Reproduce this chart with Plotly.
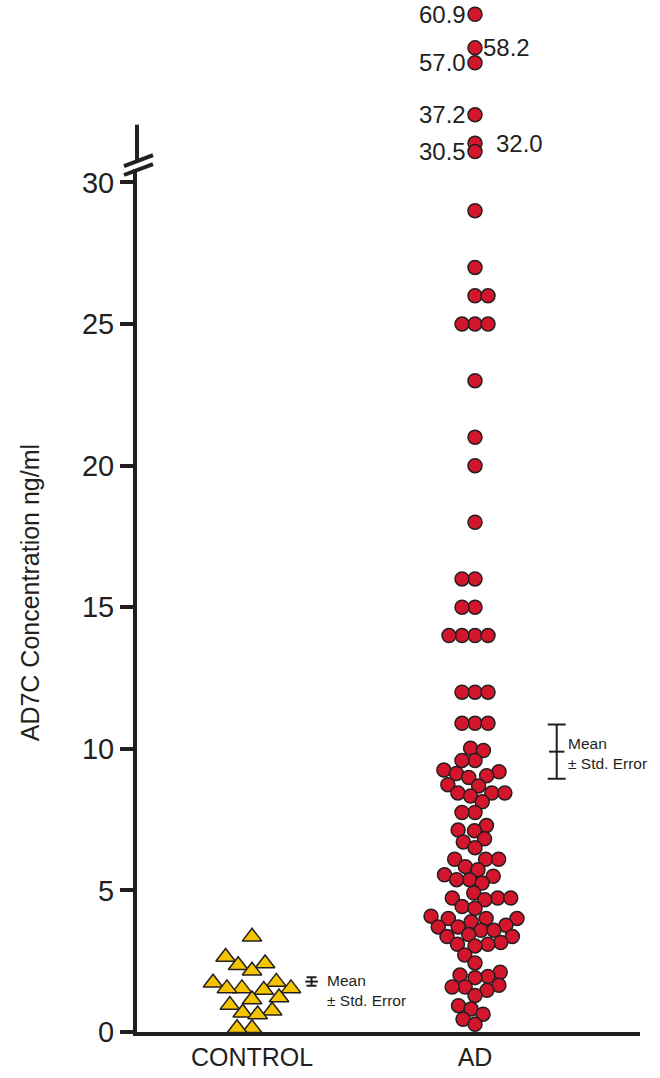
import numpy as np
import plotly.graph_objects as go

# ---------------- data ----------------
groups = ["CONTROL", "AD"]

control_values = [3.36, 2.65, 2.42, 2.36, 2.16, 1.77, 1.74, 1.54, 1.54, 1.54,
                  1.48, 1.22, 1.15, 0.95, 0.75, 0.68, 0.62, 0.13, 0.13]

ad_values = [60.9, 58.2, 57.0, 37.2, 32.0, 30.5,
             29, 27, 26, 26, 25, 25, 25, 23, 21, 20, 18, 16, 16, 15, 15,
             14, 14, 14, 14, 12, 12, 12, 10.9, 10.9, 10.9,
             10.02, 9.94, 9.59, 9.59, 9.25, 9.19, 9.13, 9.05, 8.99, 8.73, 8.69,
             8.44, 8.44, 8.44, 8.33, 8.13, 7.75, 7.75, 7.29, 7.13, 7.11, 6.82,
             6.71, 6.51, 6.1, 6.1, 6.1, 5.84, 5.73, 5.55, 5.50, 5.38, 5.38, 5.26,
             4.91, 4.73, 4.73, 4.73, 4.67, 4.43, 4.37, 4.09, 4.01, 4.01, 4.01,
             3.89, 3.77, 3.71, 3.71, 3.59, 3.59, 3.44, 3.37, 3.37, 3.16, 3.10,
             3.10, 3.04, 2.72, 2.44, 2.11, 2.01, 1.96, 1.92, 1.65, 1.59, 1.59,
             1.47, 1.29, 0.93, 0.81, 0.63, 0.45, 0.27]

labeled_values = [60.9, 58.2, 57.0, 37.2, 32.0, 30.5]
labeled_text = ["60.9", "58.2", "57.0", "37.2", "32.0", "30.5"]
labeled_side = ["left", "right", "left", "left", "right", "left"]

group_mean = [1.78, 9.9]
group_se = [0.15, 0.96]

y_tick_values = [0, 5, 10, 15, 20, 25, 30]
y_title = "AD7C Concentration ng/ml"

# ---------------- layout geometry ----------------
W, H = 660, 1078
ML, MR, MT, MB = 137, 20, 0, 46
PW, PH = W - ML - MR, H - MT - MB
X_RANGE = [0.484, 2.740]
PX_PER_X = PW / (X_RANGE[1] - X_RANGE[0])
PX_PER_Y = 28.4
Y1_TOP = 30.46
Y1_DOMAIN = [0, Y1_TOP * PX_PER_Y / PH]


def dom(p_bottom, p_top):
    return [(PH - p_bottom) / PH, (PH - p_top) / PH]


# upper segments above the axis break (pixel rows from top)
Y2_DOMAIN = dom(158, 100)
Y2_SCALE = 5.5
Y2_RANGE = [30.5 - (158 - 149) / Y2_SCALE, 30.5 + (149 - 100) / Y2_SCALE]
Y3_DOMAIN = dom(95, 0)
Y3_SCALE = 12.5
Y3_RANGE = [57.0 - (95 - 60) / Y3_SCALE, 57.0 + 60 / Y3_SCALE]

INK = "#231f20"
RED = "#d3162c"
YEL = "#f4c400"
FONT = "Liberation Sans, Arial, sans-serif"


def swarm(values, diam):
    """Deterministic beeswarm offsets (in x data units)."""
    vals = np.asarray(values, dtype=float)
    order = np.argsort(vals, kind="stable")
    placed = []
    offs = np.zeros(len(vals))
    for k, i in enumerate(order):
        y = vals[i] * PX_PER_Y
        forb = []
        for yj, xj in placed:
            dy = abs(y - yj)
            if dy < diam:
                w = np.sqrt(diam ** 2 - dy ** 2)
                forb.append((xj - w, xj + w))
        cands = [0.0] + [a for a, b in forb] + [b for a, b in forb]
        sgn = 1 if k % 2 == 0 else -1
        cands.sort(key=lambda c: (round(abs(c), 6), -sgn * c))
        x = 0.0
        for c in cands:
            if all(not (a + 1e-6 < c < b - 1e-6) for a, b in forb):
                x = c
                break
        placed.append((y, x))
        offs[i] = x / PX_PER_X
    return offs


ctrl = np.array(control_values)
ad = np.array(ad_values)
ad_low = ad[ad <= Y1_TOP]
ad_mid = ad[(ad > Y1_TOP) & (ad < 45)]
ad_top = ad[ad >= 45]

ctrl_x = 1 + swarm(ctrl, 15.0)
ad_low_x = 2 + swarm(ad_low, 13.0)

fig = go.Figure()

circle = dict(symbol="circle", size=14, color=RED, line=dict(color=INK, width=1.5))
tri = dict(symbol="triangle-up", size=17, color=YEL, line=dict(color=INK, width=1.5))

fig.add_trace(go.Scatter(x=ctrl_x, y=ctrl, mode="markers", marker=tri,
                         cliponaxis=False, showlegend=False))
fig.add_trace(go.Scatter(x=ad_low_x, y=ad_low, mode="markers", marker=circle,
                         cliponaxis=False, showlegend=False))
fig.add_trace(go.Scatter(x=[2] * len(ad_mid), y=ad_mid, yaxis="y2", mode="markers",
                         marker=circle, cliponaxis=False, showlegend=False))
fig.add_trace(go.Scatter(x=[2] * len(ad_top), y=ad_top, yaxis="y3", mode="markers",
                         marker=circle, cliponaxis=False, showlegend=False))

# mean +/- standard error markers
se_pos = [1 + 59.5 / PX_PER_X, 2 + 81.7 / PX_PER_X]
cap_w = [5, 9]
tick_sz = [9, 11]
txt_dx = [13, 9]
txt_dy = [-9, -2]
for g in range(2):
    fig.add_trace(go.Scatter(
        x=[se_pos[g]], y=[group_mean[g]], mode="markers", cliponaxis=False,
        marker=dict(symbol="line-ew", size=tick_sz[g], line=dict(color=INK, width=2)),
        error_y=dict(type="data", array=[group_se[g]], color=INK,
                     thickness=2, width=cap_w[g]),
        showlegend=False))
    fig.add_annotation(x=se_pos[g], y=group_mean[g], xref="x", yref="y",
                       text="Mean<br>± Std. Error", showarrow=False, align="left",
                       xanchor="left", yanchor="middle", xshift=txt_dx[g],
                       yshift=txt_dy[g],
                       font=dict(family=FONT, size=15.5, color=INK))

# labels of the off-scale values
for v, t, s in zip(labeled_values, labeled_text, labeled_side):
    yref = "y2" if v < 45 else "y3"
    if s == "left":
        fig.add_annotation(x=2, y=v, xref="x", yref=yref, text=t, showarrow=False,
                           xanchor="right", yanchor="middle", xshift=-7,
                           font=dict(family=FONT, size=24, color=INK))
    else:
        shift = 6 if v > 45 else 19
        fig.add_annotation(x=2, y=v, xref="x", yref=yref, text=t, showarrow=False,
                           xanchor="left", yanchor="middle", xshift=shift,
                           font=dict(family=FONT, size=24, color=INK))

# y-axis title
fig.add_annotation(x=(30 - ML) / PW, y=(PH - 592) / PH, xref="paper", yref="paper",
                   text=y_title, textangle=-90, showarrow=False,
                   xanchor="center", yanchor="middle",
                   font=dict(family=FONT, size=25, color=INK))


def pp(px, py):
    return (px - ML) / PW, (PH - py) / PH


# axis stub above the break
s0 = pp(ML, 158)
s1 = pp(ML, 122)
fig.add_shape(type="line", xref="paper", yref="paper", x0=0, y0=s0[1], x1=0, y1=s1[1],
              line=dict(color=INK, width=4))

# axis-break slashes
for (x0, y0, x1, y1) in [(124, 163.5, 153, 152.5), (124, 172.5, 153, 161.5)]:
    a0, b0 = pp(x0, y0)
    a1, b1 = pp(x1, y1)
    fig.add_shape(type="line", xref="paper", yref="paper", x0=a0, y0=b0, x1=a1, y1=b1,
                  line=dict(color=INK, width=4))

fig.update_layout(
    width=W, height=H,
    margin=dict(l=ML, r=MR, t=MT, b=MB, pad=0),
    paper_bgcolor="white", plot_bgcolor="white",
    font=dict(family=FONT, color=INK),
    xaxis=dict(range=X_RANGE, domain=[0, 1], anchor="y",
               tickmode="array", tickvals=[1, 2], ticktext=groups,
               ticks="", showgrid=False, zeroline=False,
               showline=True, linewidth=4, linecolor=INK,
               tickfont=dict(family=FONT, size=25, color=INK)),
    yaxis=dict(range=[0, Y1_TOP], domain=Y1_DOMAIN, anchor="x",
               tickmode="array", tickvals=y_tick_values,
               ticks="outside", ticklen=13, tickwidth=4, tickcolor=INK,
               showgrid=False, zeroline=False,
               showline=True, linewidth=4, linecolor=INK,
               tickfont=dict(family=FONT, size=29, color=INK)),
    yaxis2=dict(range=Y2_RANGE, domain=Y2_DOMAIN, anchor="x", visible=False),
    yaxis3=dict(range=Y3_RANGE, domain=Y3_DOMAIN, anchor="x", visible=False),
)

fig.write_html("out.html")
